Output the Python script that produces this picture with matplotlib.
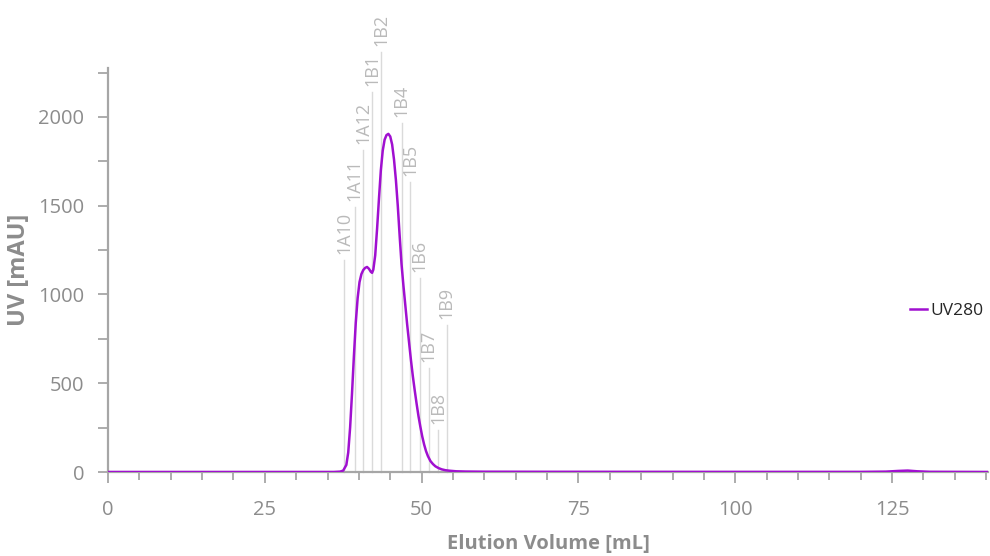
import matplotlib
matplotlib.use("Agg")
import matplotlib.pyplot as plt
from matplotlib.ticker import MultipleLocator

plt.rcParams['font.family'] = ['Open Sans', 'DejaVu Sans']

# UV280 trace (mL, mAU)
volume = [0, 36.0, 37.0, 37.5, 38.0, 38.3, 38.6, 38.9, 39.2, 39.5, 39.8, 40.1, 40.4, 40.7,
          41.0, 41.3, 41.6, 41.9, 42.1, 42.3, 42.6, 42.9, 43.2, 43.5, 43.8, 44.1, 44.4,
          44.7, 45.0, 45.3, 45.6, 45.9, 46.2, 46.5, 46.8, 47.1, 47.4, 47.7, 48.0, 48.3,
          48.6, 48.9, 49.2, 49.5, 49.8, 50.1, 50.4, 50.7, 51.0, 51.4, 51.8, 52.2, 52.7,
          53.2, 53.8, 54.5, 55.5, 57, 60, 70, 100, 120, 124, 126, 127.5, 129, 131, 140.3]
uv280 = [0, 0, 2, 8, 40, 110, 250, 440, 650, 840, 980, 1070, 1115, 1138,
         1150, 1155, 1145, 1128, 1122, 1140, 1220, 1370, 1540, 1700, 1810, 1872, 1898,
         1905, 1890, 1845, 1760, 1645, 1500, 1330, 1170, 1050, 940, 830, 730, 630,
         540, 460, 385, 315, 255, 200, 155, 118, 90, 62, 45, 32, 22,
         15, 10, 7, 4, 2.5, 1.5, 1, 0.5, 0.5, 2, 6, 8, 4, 1, 0]

# Fraction marks
frac_names = ['1A10', '1A11', '1A12', '1B1', '1B2', '1B4', '1B5', '1B6', '1B7', '1B8', '1B9']
frac_pos = [37.7, 39.3, 40.7, 42.1, 43.6, 46.8, 48.2, 49.7, 51.1, 52.6, 54.0]
frac_top = [1194, 1493, 1814, 2141, 2366, 1966, 1634, 1093, 586, 237, 828]

x_ticks = [0, 25, 50, 75, 100, 125]
y_ticks = [0, 500, 1000, 1500, 2000]

fig = plt.figure(figsize=(9.9, 5.56), dpi=100)
ax = fig.add_axes([108/990, 1-472/556, (988-108)/990, (472-68)/556])

gray_axis = '#a6a6a6'
gray_text = '#8c8c8c'

for name, xp, top in zip(frac_names, frac_pos, frac_top):
    ax.plot([xp, xp], [0, top], color='#dadada', lw=1.0, clip_on=False, zorder=1)
    ax.annotate(name, (xp, top), xytext=(0, 4.5), textcoords='offset points',
                rotation=90, ha='center', va='bottom', color='#bababa',
                fontsize=13, annotation_clip=False)

ax.plot(volume, uv280, color='#a010d0', lw=1.8, label='UV280', zorder=3)

ax.set_xlim(0, 140.3)
ax.set_ylim(0, 2276)
ax.set_xticks(x_ticks)
ax.set_yticks(y_ticks)
ax.xaxis.set_minor_locator(MultipleLocator(5))
ax.yaxis.set_minor_locator(MultipleLocator(250))

for s in ['top', 'right']:
    ax.spines[s].set_visible(False)
for s in ['left', 'bottom']:
    ax.spines[s].set_color(gray_axis)
    ax.spines[s].set_linewidth(1.6)

ax.tick_params(axis='both', which='both', color=gray_axis, width=1.3,
               labelcolor=gray_text, labelsize=14.5)
ax.tick_params(axis='x', which='major', length=8, pad=12)
ax.tick_params(axis='x', which='minor', length=6)
ax.tick_params(axis='y', which='both', length=7, pad=10)

ax.set_xlabel('Elution Volume [mL]', color=gray_text, fontsize=14.5, fontweight='bold', labelpad=10)
ax.set_ylabel('UV [mAU]', color=gray_text, fontsize=17, fontweight='bold', labelpad=5)

leg = ax.legend(loc='center left', bbox_to_anchor=((910-108)/880, 0.398), frameon=False,
                fontsize=12.5, handlelength=1.0, handletextpad=0.15, borderpad=0,
                borderaxespad=0)
for t in leg.get_texts():
    t.set_color('#262626')

fig.savefig('out.png', dpi=100)
